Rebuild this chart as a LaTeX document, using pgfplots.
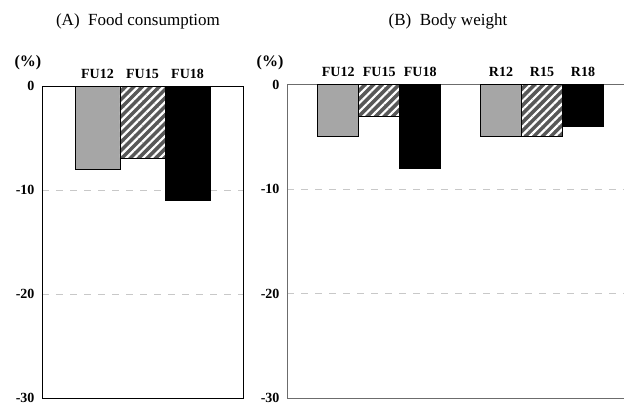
\documentclass[border=0pt]{standalone}
\usepackage{pgfplots}
\pgfplotsset{compat=1.18}
\usepackage{fontspec}
\setmainfont{Liberation Serif}
\usetikzlibrary{patterns.meta}

\definecolor{barlight}{RGB}{166,166,166}
\definecolor{hatchdark}{RGB}{88,88,88}
\definecolor{gridgray}{RGB}{200,200,200}

\pgfplotsset{
  panel/.style={
    scale only axis,
    anchor=south west,
    ymin=-30, ymax=0,
    ytick={0,-10,-20,-30},
    ybar, bar width=1,
    xtick pos=upper,
    xticklabel pos=upper,
    major tick length=0pt,
    ymajorgrids,
    grid style={gridgray, dash pattern=on 7pt off 7pt, line width=0.7pt},
    /pgf/number format/assume math mode=true,
    ticklabel style={font=\bfseries\fontsize{14}{14}\selectfont},
    yticklabel style={xshift=-4pt},
    xticklabel style={yshift=4pt},
  },
  lightbar/.style={draw=black, line width=0.6pt, fill=barlight, bar shift=0pt},
  hatchbar/.style={draw=black, line width=0.6pt, fill=hatchdark, bar shift=0pt,
    postaction={pattern={Lines[angle=45, distance=6pt, line width=2.2pt]}, pattern color=white}},
  darkbar/.style={draw=black, line width=0.6pt, fill=black, bar shift=0pt},
}

\begin{document}
\begin{tikzpicture}[x=1pt, y=1pt]
\useasboundingbox (0,0) rectangle (624,403);

% (A) Food consumption
\begin{axis}[panel,
  at={(42pt,5pt)}, width=201pt, height=312pt,
  xmin=-0.23, xmax=4.23,
  xtick={1,2,3}, xticklabels={FU12,FU15,FU18},
  axis line style={black, line width=0.8pt},
]
\addplot[lightbar] coordinates {(1,-8)};
\addplot[hatchbar] coordinates {(2,-7)};
\addplot[darkbar] coordinates {(3,-11)};
\end{axis}

% (B) Body weight
\begin{axis}[panel,
  at={(287pt,5pt)}, width=337pt, height=313.5pt,
  xmin=0, xmax=8.22,
  xtick={1.25,2.25,3.25,5.22,6.22,7.22},
  xticklabels={FU12,FU15,FU18,R12,R15,R18},
  axis x line=box, axis y line=left,
  axis line style={-, gray!85!black, line width=0.8pt},
]
\addplot[lightbar] coordinates {(1.25,-5)};
\addplot[hatchbar] coordinates {(2.25,-3)};
\addplot[darkbar] coordinates {(3.25,-8)};
\addplot[lightbar] coordinates {(5.22,-5)};
\addplot[hatchbar] coordinates {(6.22,-5)};
\addplot[darkbar] coordinates {(7.22,-4)};
\end{axis}

\node[font=\fontsize{17}{17}\selectfont] at (138,382) {(A)\ \ Food consumptiom};
\node[font=\fontsize{17}{17}\selectfont] at (448,382) {(B)\ \ Body weight};
\node[font=\bfseries\fontsize{16}{16}\selectfont] at (28,340) {(\%)};
\node[font=\bfseries\fontsize{16}{16}\selectfont] at (270,340) {(\%)};
\end{tikzpicture}
\end{document}
